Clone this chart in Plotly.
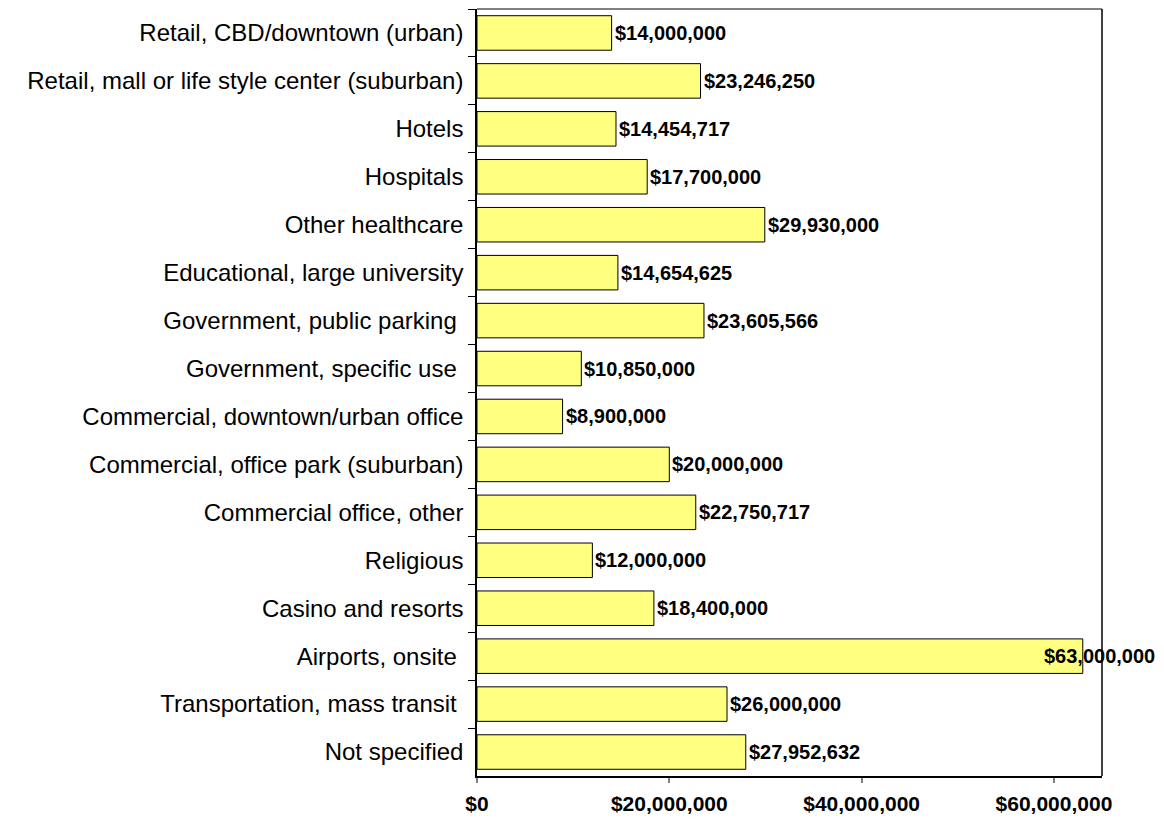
import plotly.graph_objects as go

categories = [
    "Retail, CBD/downtown (urban)",
    "Retail, mall or life style center (suburban)",
    "Hotels",
    "Hospitals",
    "Other healthcare",
    "Educational, large university",
    "Government, public parking\u00a0",
    "Government, specific use\u00a0",
    "Commercial, downtown/urban office",
    "Commercial, office park (suburban)",
    "Commercial office, other",
    "Religious",
    "Casino and resorts",
    "Airports, onsite\u00a0",
    "Transportation, mass transit\u00a0",
    "Not specified",
]
values = [14000000, 23246250, 14454717, 17700000, 29930000, 14654625, 23605566,
          10850000, 8900000, 20000000, 22750717, 12000000, 18400000, 63000000,
          26000000, 27952632]
tick_vals = [0, 20000000, 40000000, 60000000]
tick_text = ["$0", "$20,000,000", "$40,000,000", "$60,000,000"]
x_max = 65000000

FONT = "Liberation Sans, Arial, sans-serif"

fig = go.Figure()
fig.add_trace(go.Bar(
    y=categories, x=values, orientation="h",
    marker=dict(color="#FFFF80", line=dict(color="#000000", width=1)),
    width=0.72, hoverinfo="x+y",
))

annotations = []
for c, v in zip(categories, values):
    overflow = v > 0.9 * x_max
    annotations.append(dict(
        x=v, y=c, xref="x", yref="y", text="<b>$" + f"{v:,}" + "</b>",
        showarrow=False, xanchor="left", yanchor="middle",
        xshift=-41 if overflow else 1,
        font=dict(family=FONT, size=20, color="#000000"),
    ))

# page body has an 8px margin, so the figure is offset by (8, 8)
fig.update_layout(
    width=1156, height=813,
    margin=dict(l=469, r=62, t=1, b=45, autoexpand=False),
    paper_bgcolor="white", plot_bgcolor="white",
    showlegend=False,
    annotations=annotations,
    shapes=[
        dict(type="line", xref="paper", yref="paper", x0=0, x1=1, y0=1, y1=1,
             line=dict(color="#808080", width=2)),
        dict(type="line", xref="paper", yref="paper", x0=1, x1=1, y0=0, y1=1,
             line=dict(color="#000000", width=1.5)),
    ],
)
fig.update_xaxes(
    range=[0, x_max], tickvals=tick_vals, ticktext=tick_text,
    showgrid=False, zeroline=False, showline=True, linecolor="#000000", linewidth=1.5,
    ticks="outside", ticklen=5, tickcolor="#808080", tickwidth=1.5,
    ticklabelstandoff=3,
    tickfont=dict(family=FONT, size=21, color="#000000", weight="bold"),
)
fig.update_yaxes(
    autorange="reversed", showgrid=False, showline=True, linecolor="#000000", linewidth=1.5,
    ticks="outside", ticklen=7, tickcolor="#000000", tickson="boundaries",
    ticklabelstandoff=7,
    tickfont=dict(family=FONT, size=24, color="#000000"),
)

fig.write_html("out.html")
